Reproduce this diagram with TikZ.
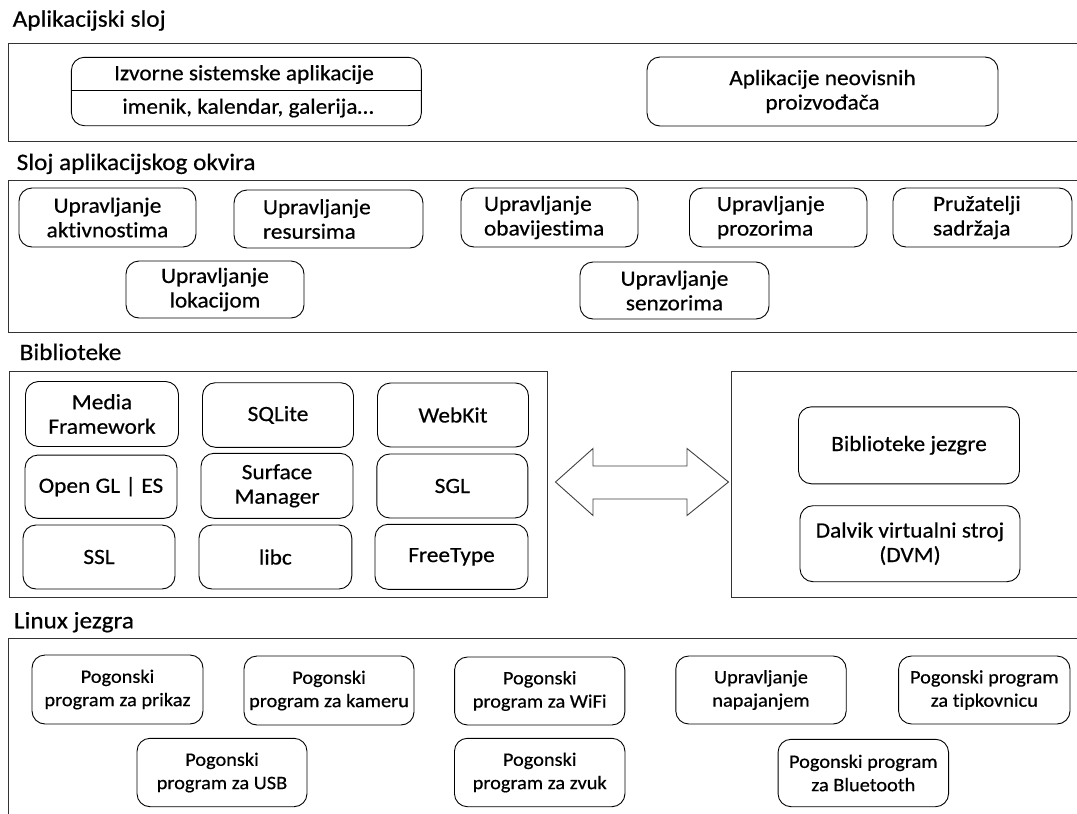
\documentclass[tikz,border=0pt]{standalone}
\usepackage{fontspec}
\setmainfont{Carlito}[FakeStretch=1.07, FakeBold=0.5, RawFeature={-liga;-clig;-calt;-dlig}]
\newcommand\boxfont{\fontsize{21.8}{24.5}\selectfont}
\newcommand\kernfont{\fontsize{19}{23.3}\selectfont}
\newcommand\titlefont{\fontsize{23.6}{28}\selectfont}
\newcommand\tiq{t\kern0pt i}
\tikzset{
  layer/.style={draw=black!80, line width=1.1pt, rectangle, inner sep=0pt},
  rbox/.style={draw=black, line width=0.9pt, rounded corners=13pt, align=center,
               inner xsep=2pt, inner ysep=0pt, font=\boxfont},
  kbox/.style={rbox, font=\kernfont},
  lbox/.style n args={2}{align=left, inner xsep=#1pt, text width=#2pt},
  ttl/.style={anchor=base west, inner sep=0pt, font=\titlefont},
  txt/.style={inner sep=0pt, font=\boxfont},
  sz/.style 2 args={minimum width=#1pt, minimum height=#2pt},
  barrow/.style={draw=black!75, line width=0.9pt, fill=white, line join=miter},
}
\begin{document}
\begin{tikzpicture}[x=1pt, y=-1pt]
\useasboundingbox (0,0) rectangle (1077,814);
\clip (0,0) rectangle (1077,814);
\fill[white] (0,0) rectangle (1077,814);

% ---- Aplikacijski sloj ----
\node[ttl] (t1) at (12.5,26.7) {Aplikacijski sloj};
\node[layer, sz={1080}{98}] (L1) at (548.6,92.3) {};
\node[rbox, sz={350}{68.4}] (izv) at (246.4,91.5) {};
\draw[line width=0.9pt] ([yshift=1.5pt]izv.west) -- ([yshift=1.5pt]izv.east);
\node[txt] (izva) at (244,74.5) {Izvorne sistemske aplikacije};
\node[txt] (izvb) at (248,108) {imenik, kalendar, galerija\dots};
\node[rbox, sz={351}{69}] (apn) at (822.5,91.5) {Aplikacije neovisnih\\proizvođača};

% ---- Sloj aplikacijskog okvira ----
\node[ttl] (t2) at (16.5,170) {Sloj aplikacijskog okvira};
\node[layer, sz={1080}{151.6}] (L2) at (548.6,256.5) {};
\node[rbox, sz={177}{59}] (akt) at (107.5,217.5) {Upravljanje\\ak\tiq vnos\tiq ma};
\node[rbox, sz={189}{58}, lbox={29}{131}] (res) at (328.5,219) {Upravljanje\\resursima};
\node[rbox, sz={177}{59}, lbox={23}{131}] (oba) at (549.5,217.5) {Upravljanje\\obavijes\tiq ma};
\node[rbox, sz={177.5}{59}, lbox={27.5}{122.5}] (pro) at (778.2,217.5) {Upravljanje\\prozorima};
\node[rbox, sz={179}{59}, lbox={40}{99}] (pru) at (982.5,217.5) {Pružatelji\\sadržaja};
\node[rbox, sz={178}{57}] (lok) at (215,289.5) {Upravljanje\\lokacijom};
\node[rbox, sz={189}{57}] (sen) at (674.5,290.5) {Upravljanje\\senzorima};

% ---- Biblioteke ----
\node[ttl] (t3) at (19.5,360) {Biblioteke};
\node[layer, sz={538.3}{226}] (L3a) at (278.2,484.7) {};
\node[layer, sz={360}{226}] (L3b) at (911.8,484.7) {};
\node[rbox, sz={153}{65}] (med) at (102,414) {Media\\Framework};
\node[rbox, sz={151}{64.6}] (sql) at (278,415) {SQLite};
\node[rbox, sz={151}{64}] (web) at (453,415) {WebKit};
\node[rbox, sz={152}{63.3}] (ogl) at (101,486.7) {Open GL | ES};
\node[rbox, sz={152}{65}] (sfm) at (277,485.8) {Surface\\Manager};
\node[rbox, sz={151}{64}] (sgl) at (452.3,486) {SGL};
\node[rbox, sz={152}{64}] (ssl) at (99,557) {SSL};
\node[rbox, sz={152.8}{64}] (lbc) at (275.4,557) {libc};
\node[rbox, sz={153}{65}] (fty) at (451.5,556.8) {FreeType};
\node[rbox, sz={221}{77}] (bij) at (909,445.3) {Biblioteke jezgre};
\node[rbox, sz={220}{76}] (dvm) at (910,543.7) {Dalvik virtualni stroj\\(DVM)};
\draw[barrow] (555.5,482) -- (593,448.5) -- (593,466) -- (687,466) -- (687,448.5)
  -- (728.5,482) -- (687,515.5) -- (687,499) -- (593,499) -- (593,515.5) -- cycle;

% ---- Linux jezgra ----
\node[ttl] (t4) at (13.8,628.3) {Linux jezgra};
\node[layer, sz={1080}{200}] (L4) at (548.6,738.3) {};
\node[kbox, sz={171}{69}] (prk) at (117.5,689.5) {Pogonski\\program za prikaz};
\node[kbox, sz={170}{69}] (kam) at (329,690.5) {Pogonski\\program za kameru};
\node[kbox, sz={170.3}{68}] (wif) at (539.7,691) {Pogonski\\program za WiFi};
\node[kbox, sz={170.4}{68}] (nap) at (761,690) {Upravljanje\\napajanjem};
\node[kbox, sz={171.4}{68}] (tip) at (984.3,690) {Pogonski program\\za \tiq pkovnicu};
\node[kbox, sz={170}{68.4}] (usb) at (222,772.5) {Pogonski\\program za USB};
\node[kbox, sz={170.5}{68.4}] (zvk) at (539.7,772.5) {Pogonski\\program za zvuk};
\node[kbox, sz={170.5}{67.4}] (blu) at (863.3,773) {Pogonski program\\za Bluetooth};
\end{tikzpicture}
\end{document}
